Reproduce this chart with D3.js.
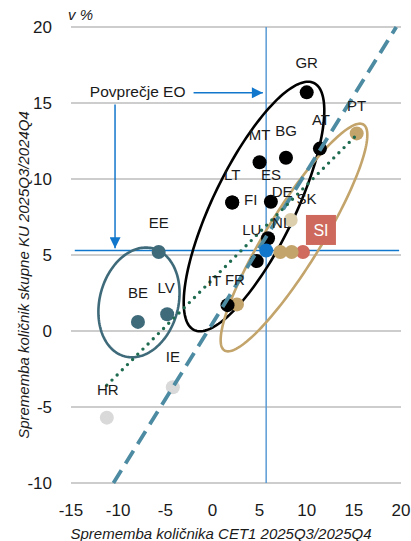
<!DOCTYPE html>
<html><head><meta charset="utf-8">
<script src="https://cdn.jsdelivr.net/npm/d3@7"></script>
<style>body{margin:0;background:#fff}svg{display:block;font-family:"Liberation Sans",Arial,sans-serif}</style>
</head><body><svg id="c" width="411" height="541"></svg>
<script>
// ---- data ----
const xTicks = [-15, -10, -5, 0, 5, 10, 15, 20];
const yTicks = [-10, -5, 0, 5, 10, 15, 20];
const countries = ["GR","AT","BG","MT","LT","FI","ES","DE","LU","IT","FR","PT","NL","SK","","SI","EE","BE","LV","HR","IE"];
const cet1Change = [10.0,11.4,7.8,5.0,2.1,2.1,6.2,5.9,4.7,1.6,2.6,15.3,8.3,8.4,7.2,9.6,-5.7,-7.9,-4.8,-11.2,-4.2];
const totalCapChange = [15.7,12.0,11.4,11.1,8.45,8.45,8.5,6.1,4.6,1.7,1.75,13.0,7.3,5.2,5.2,5.2,5.2,0.6,1.1,-5.7,-3.7];
const groups = ["b","b","b","b","b","b","b","b","b","b","g","g","l","g","g","r","t","t","t","s","s"];
const euAvg = [5.7, 5.3];
const diagonal = [[-10.5, -10], [19.5, 20]];
const trend = [[-11.2, -3.57], [15.3, 12.9]];
// ellipses: centre + two conjugate half-diameters (data units)
const ellipses = [
  {g:"t", c:[-7.79,1.88], h:[4.24,0], v:[0.74,3.61]},
  {g:"b", c:[4.41,8.19], h:[4.77,0], v:[5.73,8.21]},
  {g:"g", c:[8.65,6.15], h:[3.39,0], v:[7.0,7.49]}
];
// label offsets in px (dx, dy) per country
const labelOffsets = {GR:[0,-30],AT:[1,-29],BG:[0,-27],MT:[0,-28],LT:[0,-28],FI:[18.5,-3],ES:[0,-27],
  DE:[14,-47],LU:[-5,-31],IT:[-13,-24],FR:[-2,-25],PT:[0,-28],NL:[-9,3],SK:[15,-53],SI:[18,-22],
  EE:[0,-29],BE:[0,-29],LV:[-1,-27],HR:[1,-28],IE:[0,-30]};

// ---- styles ----
const colors = {b:"#000000", g:"#c3a46b", l:"#dccfae", r:"#cf6b5f", t:"#3e6a7a", s:"#d9d9d9"};
const blue = "#1177cc";

const svg = d3.select("#c");
const W = 411, H = 541;
const m = {l:71, r:10, t:27, b:58};
const xs = d3.scaleLinear().domain([-15,20]).range([m.l, W-m.r]);
const ys = d3.scaleLinear().domain([-10,20]).range([H-m.b, m.t]);

// grid
svg.append("g").selectAll("line").data(yTicks).join("line")
  .attr("x1", xs(-15)).attr("x2", xs(20)).attr("y1", d=>ys(d)).attr("y2", d=>ys(d))
  .attr("stroke","#bdbdbd").attr("stroke-width",1.5);

// tick labels
svg.append("g").selectAll("text").data(yTicks).join("text")
  .attr("x", m.l-19).attr("y", d=>ys(d)).attr("dy","0.35em").attr("text-anchor","end")
  .attr("font-size",17).attr("fill","#1a1a1a").text(d=>d);
svg.append("g").selectAll("text").data(xTicks).join("text")
  .attr("x", d=>xs(d)).attr("y", 516).attr("text-anchor","middle")
  .attr("font-size",17).attr("fill","#1a1a1a").text(d=>d);

// axis titles
svg.append("text").attr("x", xs(-15)-3).attr("y", 20).attr("font-size",15).attr("font-style","italic")
  .attr("fill","#1a1a1a").text("v %");
svg.append("text").attr("x", (xs(-15)+xs(20))/2 - 15).attr("y", 539).attr("text-anchor","middle")
  .attr("font-size",15).attr("font-style","italic").attr("fill","#1a1a1a")
  .text("Sprememba količnika CET1 2025Q3/2025Q4");
svg.append("text").attr("transform", `translate(29,${(ys(-10)+ys(20))/2+20}) rotate(-90)`)
  .attr("text-anchor","middle").attr("font-size",15).attr("font-style","italic").attr("fill","#1a1a1a")
  .text("Sprememba količnik skupne KU 2025Q3/2024Q4");

// EU average lines
svg.append("line").attr("x1", xs(euAvg[0])).attr("x2", xs(euAvg[0])).attr("y1", ys(20)).attr("y2", ys(-10))
  .attr("stroke","#5b9bd5").attr("stroke-width",1.5);
svg.append("line").attr("x1", xs(-14.6)).attr("x2", xs(19.8)).attr("y1", ys(euAvg[1])).attr("y2", ys(euAvg[1]))
  .attr("stroke",blue).attr("stroke-width",1.5);

// ellipses
const tt = d3.range(0, 2*Math.PI+0.001, Math.PI/90);
const eline = d3.line();
svg.append("g").selectAll("path").data(ellipses).join("path")
  .attr("d", e => eline(tt.map(t => [
      xs(e.c[0] + Math.cos(t)*e.h[0] + Math.sin(t)*e.v[0]),
      ys(e.c[1] + Math.cos(t)*e.h[1] + Math.sin(t)*e.v[1])])) + "Z")
  .attr("fill","none").attr("stroke", e=>colors[e.g]).attr("stroke-width",2.6);

// points
const pts = countries.map((c,i)=>({c, x:cet1Change[i], y:totalCapChange[i], g:groups[i]}));
const order = ["s","t","r","g","l","b"];
const sorted = pts.slice().sort((a,b)=>order.indexOf(a.g)-order.indexOf(b.g));
svg.append("g").selectAll("circle").data(sorted).join("circle")
  .attr("cx", d=>xs(d.x)).attr("cy", d=>ys(d.y)).attr("r",7).attr("fill", d=>colors[d.g]);

// diagonal dashed
svg.append("line").attr("x1", xs(diagonal[0][0])).attr("y1", ys(diagonal[0][1]))
  .attr("x2", xs(diagonal[1][0])).attr("y2", ys(diagonal[1][1]))
  .attr("stroke","#4d8ba2").attr("stroke-width",3.8).attr("stroke-dasharray","15 8");
// dotted trend
svg.append("line").attr("x1", xs(trend[0][0])).attr("y1", ys(trend[0][1]))
  .attr("x2", xs(trend[1][0])).attr("y2", ys(trend[1][1]))
  .attr("stroke","#1e6b50").attr("stroke-width",3.4).attr("stroke-linecap","round").attr("stroke-dasharray","0 7.3");

// EU average point
svg.append("circle").attr("cx", xs(euAvg[0])).attr("cy", ys(euAvg[1])).attr("r",7).attr("fill",blue);

// labels
const lab = pts.filter(d=>d.c && d.c!=="SI");
svg.append("g").selectAll("text").data(lab).join("text")
  .attr("x", d=>xs(d.x)+labelOffsets[d.c][0]).attr("y", d=>ys(d.y)+labelOffsets[d.c][1])
  .attr("dy","0.35em").attr("text-anchor","middle").attr("font-size",15).attr("fill","#1a1a1a").text(d=>d.c);
const si = pts.find(d=>d.c==="SI");
const sx = xs(si.x)+labelOffsets.SI[0], sy = ys(si.y)+labelOffsets.SI[1];
svg.append("rect").attr("x", sx-15).attr("y", sy-15).attr("width",30).attr("height",30).attr("fill","#cd6a5d");
svg.append("text").attr("x", sx).attr("y", sy).attr("dy","0.35em").attr("text-anchor","middle")
  .attr("font-size",16).attr("fill","#fff").text("SI");

// annotation
const defs = svg.append("defs");
defs.append("marker").attr("id","ah").attr("viewBox","0 0 10 10").attr("refX",10).attr("refY",5)
  .attr("markerWidth",14).attr("markerHeight",11).attr("markerUnits","userSpaceOnUse").attr("orient","auto")
  .append("path").attr("d","M0,0L10,5L0,10Z").attr("fill",blue);
svg.append("text").attr("x", xs(-13)).attr("y", ys(15.67)).attr("dy","0.3em")
  .attr("font-size",15.5).attr("fill","#1a1a1a").text("Povprečje EO");
svg.append("line").attr("x1", xs(-2.0)).attr("x2", xs(5.35)).attr("y1", ys(15.67)).attr("y2", ys(15.67))
  .attr("stroke",blue).attr("stroke-width",1.5).attr("marker-end","url(#ah)");
svg.append("line").attr("x1", xs(-10.33)).attr("x2", xs(-10.33)).attr("y1", ys(14.9)).attr("y2", ys(5.45))
  .attr("stroke",blue).attr("stroke-width",1.5).attr("marker-end","url(#ah)");
</script></body></html>
